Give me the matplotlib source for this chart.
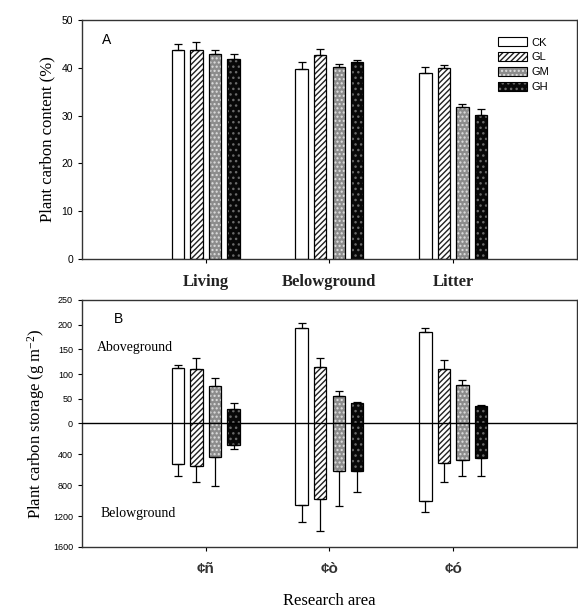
import matplotlib
matplotlib.use("Agg")
import matplotlib.pyplot as plt
from matplotlib.patches import Patch
from matplotlib.legend_handler import HandlerTuple
import numpy as np

# ---------------- data ----------------
treatments = ["CK", "GL", "GM", "GH"]

# Panel A: plant carbon content (%)
organs = ["Living", "Belowground", "Litter"]
content_mean = {
    "CK": [43.6, 39.8, 38.9],
    "GL": [43.6, 42.6, 39.9],
    "GM": [42.8, 40.2, 31.7],
    "GH": [41.8, 41.1, 30.1],
}
content_err = {
    "CK": [1.3, 1.3, 1.2],
    "GL": [1.7, 1.3, 0.7],
    "GM": [0.9, 0.6, 0.8],
    "GH": [1.1, 0.6, 1.2],
}

# Panel B: plant carbon storage (g m-2)
areas = ["¢ñ", "¢ò", "¢ó"]
above_mean = {
    "CK": [113, 193, 186],
    "GL": [111, 114, 111],
    "GM": [75, 56, 77],
    "GH": [30, 42, 35],
}
above_err = {
    "CK": [6, 10, 8],
    "GL": [21, 18, 17],
    "GM": [16, 9, 10],
    "GH": [12, 2, 2],
}
below_mean = {
    "CK": [520, 1062, 1001],
    "GL": [546, 975, 511],
    "GM": [433, 611, 477],
    "GH": [273, 611, 446],
}
below_err = {
    "CK": [156, 217, 152],
    "GL": [217, 412, 252],
    "GM": [373, 455, 199],
    "GH": [56, 282, 230],
}

pos_ticks = [0, 50, 100, 150, 200, 250]
neg_ticks = [400, 800, 1200, 1600]

# ---------------- style ----------------
plt.rcParams["mathtext.fontset"] = "custom"
plt.rcParams["mathtext.rm"] = "Liberation Serif"
plt.rcParams["mathtext.it"] = "Liberation Serif:italic"
plt.rcParams["mathtext.bf"] = "Liberation Serif:bold"
plt.rcParams["mathtext.default"] = "rm"
styles = {
    "CK": dict(face="white", hatch=None, hcol="black"),
    "GL": dict(face="white", hatch="//////", hcol="#202020"),
    "GM": dict(face="#8c8c8c", hatch="....", hcol="#e0e0e0"),
    "GH": dict(face="#080808", hatch="...", hcol="#6a6a6a"),
}
serif = ["Liberation Serif", "DejaVu Serif"]
sans = ["Liberation Sans", "DejaVu Sans"]

fig = plt.figure(figsize=(5.78, 6.10), dpi=100)
axA = fig.add_axes([0.142, 0.5754, 0.856, 0.392])
axB = fig.add_axes([0.142, 0.1033, 0.856, 0.405])

width = 0.1
step = 0.15
offsets = [(-1.5 + i) * step for i in range(4)]


def draw_bar(ax, x, heights, bottoms, t):
    st = styles[t]
    ax.bar(x, heights, width=width, bottom=bottoms, color=st["face"],
           hatch=st["hatch"], edgecolor=st["hcol"], linewidth=0, zorder=2)
    ax.bar(x, heights, width=width, bottom=bottoms, fill=False,
           edgecolor="black", linewidth=0.9, zorder=3)


# ---------------- Panel A ----------------
xA = np.arange(len(organs))
for i, t in enumerate(treatments):
    xs = xA + offsets[i]
    m = np.array(content_mean[t])
    draw_bar(axA, xs, m, 0, t)
    axA.errorbar(xs, m, yerr=[np.zeros_like(m), content_err[t]], fmt="none",
                 ecolor="black", elinewidth=0.9, capsize=3, capthick=0.9, zorder=4)

axA.set_xlim(-1, 3)
axA.set_ylim(0, 50)
axA.set_yticks([0, 10, 20, 30, 40, 50])
axA.set_xticks(xA)
axA.set_xticklabels(organs, fontfamily=serif, fontsize=12, fontweight="bold", color="#222222")
axA.tick_params(axis="y", labelsize=7.5, direction="out", length=3)
axA.tick_params(axis="x", direction="out", length=3, pad=8)
for lab in axA.get_yticklabels():
    lab.set_fontfamily(sans)
axA.set_ylabel("Plant carbon content (%)", fontfamily=serif, fontsize=12, labelpad=4)
axA.text(0.04, 0.90, "A", transform=axA.transAxes, fontfamily=sans, fontsize=10)

# legend
handles = []
for t in treatments:
    st = styles[t]
    fillp = Patch(facecolor=st["face"], hatch=st["hatch"], edgecolor=st["hcol"], linewidth=0)
    outl = Patch(fill=False, edgecolor="black", linewidth=0.8)
    handles.append((fillp, outl))
leg = axA.legend(handles, treatments, loc="upper right", bbox_to_anchor=(0.965, 0.97),
                 frameon=False, prop={"family": sans, "size": 8}, handlelength=2.6,
                 handleheight=0.9, labelspacing=0.4, handletextpad=0.4,
                 handler_map={tuple: HandlerTuple(ndivide=1, pad=0)})

# ---------------- Panel B ----------------
scale = 250.0 / 1600.0
xB = np.arange(len(areas))
for i, t in enumerate(treatments):
    xs = xB + offsets[i]
    a = np.array(above_mean[t], dtype=float)
    b = np.array(below_mean[t], dtype=float) * scale
    draw_bar(axB, xs, a + b, -b, t)
    axB.errorbar(xs, a, yerr=[np.zeros_like(a), above_err[t]], fmt="none",
                 ecolor="black", elinewidth=0.9, capsize=3, capthick=0.9, zorder=4)
    be = np.array(below_err[t], dtype=float) * scale
    axB.errorbar(xs, -b, yerr=[be, np.zeros_like(be)], fmt="none",
                 ecolor="black", elinewidth=0.9, capsize=3, capthick=0.9, zorder=4)

axB.axhline(0, color="black", linewidth=1.0, zorder=5)
axB.set_xlim(-1, 3)
axB.set_ylim(-250, 250)
ytick_pos = list(pos_ticks) + [-v * scale for v in neg_ticks]
ytick_lab = [str(v) for v in pos_ticks] + [str(v) for v in neg_ticks]
axB.set_yticks(ytick_pos)
axB.set_yticklabels(ytick_lab, fontfamily=sans, fontsize=6.5)
axB.set_xticks(xB)
axB.set_xticklabels(areas, fontfamily=sans, fontsize=11, fontweight="bold", color="#333333")
axB.tick_params(axis="y", direction="out", length=3)
axB.tick_params(axis="x", direction="out", length=3, pad=8)
axB.set_ylabel(r"Plant carbon storage (g m$^{-2}$)", fontfamily=serif, fontsize=12, labelpad=4)
axB.set_xlabel("Research area", fontfamily=serif, fontsize=12, labelpad=12)
axB.text(0.065, 0.905, "B", transform=axB.transAxes, fontfamily=sans, fontsize=10)
axB.text(0.03, 0.795, "Aboveground", transform=axB.transAxes, fontfamily=serif, fontsize=10)
axB.text(0.038, 0.12, "Belowground", transform=axB.transAxes, fontfamily=serif, fontsize=10)

for ax in (axA, axB):
    for s in ax.spines.values():
        s.set_linewidth(1.0)
        s.set_color("#333333")

fig.savefig("out.png", dpi=100)
